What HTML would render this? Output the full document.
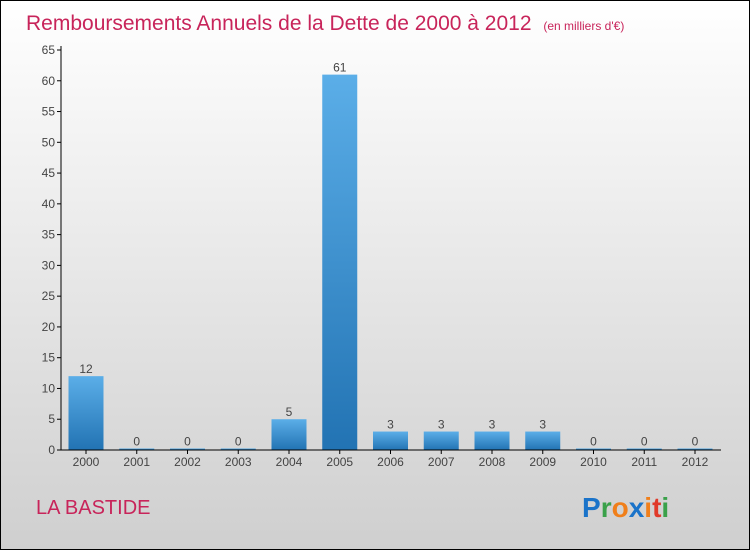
<!DOCTYPE html>
<html><head><meta charset="utf-8"><style>
body{margin:0}
#c{width:750px;height:550px;position:relative;box-sizing:border-box;border:1px solid #000;background:linear-gradient(#ffffff,#cfcfcf);font-family:"Liberation Sans",sans-serif;overflow:hidden}
</style></head><body>
<div id="c">
<svg width="748" height="548" viewBox="1 1 748 548" id="s">
<defs><linearGradient id="g" x1="0" y1="0" x2="0" y2="1"><stop offset="0" stop-color="#5baee8"/><stop offset="1" stop-color="#2273b3"/></linearGradient></defs>
<text x="26" y="30" font-size="21" fill="#c8245a">Remboursements Annuels de la Dette de 2000 à 2012 <tspan font-size="12" dx="6">(en milliers d'€)</tspan></text>
<text x="36" y="514" font-size="20" fill="#c8245a">LA BASTIDE</text>
<text x="582" y="517" font-size="28" font-weight="bold"><tspan fill="#1a73c9">P</tspan><tspan fill="#3aa14a">r</tspan><tspan fill="#f07f1a">o</tspan><tspan fill="#1a73c9">x</tspan><tspan fill="#f07f1a">i</tspan><tspan fill="#e03a2a">t</tspan><tspan fill="#3aa14a">i</tspan></text>
<g id="plot"></g>
</svg>
</div>
<script>
const categories=["2000","2001","2002","2003","2004","2005","2006","2007","2008","2009","2010","2011","2012"];
const values=[12,0,0,0,5,61,3,3,3,3,0,0,0];
const yTicks=[0,5,10,15,20,25,30,35,40,45,50,55,60,65];
const NS="http://www.w3.org/2000/svg";
const p=document.getElementById('plot');
const y0=450,yTop=50,yMax=65,xAxis=61,x0=86,step=50.75,bw=35;
const y=v=>y0-(v/yMax)*(y0-yTop);
const x=i=>x0+i*step;
function mk(t,a){const e=document.createElementNS(NS,t);for(const k in a)e.setAttribute(k,a[k]);p.appendChild(e);return e;}
yTicks.forEach(v=>{
 const t=mk('line',{x1:57,x2:xAxis,y1:y(v),y2:y(v),stroke:'#000'});
 
 
 const l=mk('text',{x:55,y:y(v)+4,'font-size':12,fill:'#444','text-anchor':'end'});l.textContent=v;
 
 
});
values.forEach((v,i)=>{
 const h=Math.max(y0-y(v),1.5);
 const b=mk('rect',{x:x(i)-bw/2,y:y0-h,width:bw,height:h,fill:'url(#g)'});
 
 
 const vl=mk('text',{x:x(i),y:y0-h-3,'font-size':12,fill:'#444','text-anchor':'middle'});vl.textContent=v;
 
 
 const tk=mk('line',{x1:x(i),x2:x(i),y1:y0,y2:y0+4,stroke:'#000'});
 
 
 const cl=mk('text',{x:x(i),y:y0+16,'font-size':12,fill:'#444','text-anchor':'middle'});cl.textContent=categories[i];
 
 
});
const ya=mk('line',{x1:xAxis,x2:xAxis,y1:yTop-4,y2:y0,stroke:'#000'});


const xa=mk('line',{x1:xAxis,x2:721,y1:y0,y2:y0,stroke:'#000'});


</script>
</body></html>
